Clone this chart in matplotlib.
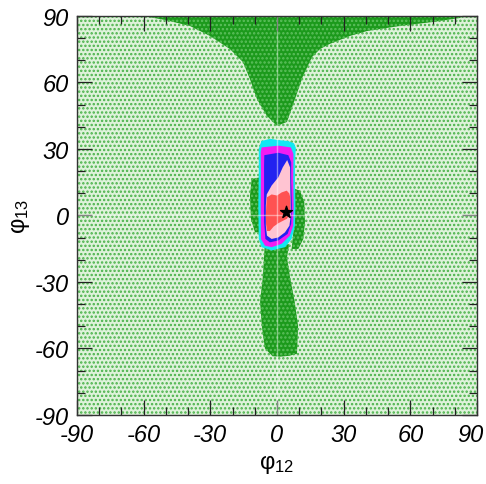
import numpy as np
import matplotlib
matplotlib.use("Agg")
import matplotlib.pyplot as plt
from matplotlib.patches import Rectangle
from matplotlib.transforms import ScaledTranslation

plt.rcParams['font.family'] = ['Liberation Sans', 'DejaVu Sans']
plt.rcParams['mathtext.default'] = 'regular'
plt.rcParams['axes.unicode_minus'] = False
plt.rcParams['hatch.linewidth'] = 1.15

# --- allowed-region boundaries in the (phi12, phi13) plane, degrees ---
# upper 3-sigma lobe hanging from phi13 = 90
top_phi12 = [-60.3, 83.7, 82.3, 70.2, 55.4, 40.5, 32.9, 23.8, 19.4, 15.8, 11.7, 8.1,
             4.5, 0.0, -4.5, -9.0, -12.2, -15.3, -21.2, -30.2, -39.2, -50.4]
top_phi13 = [90.0, 90.0, 89.1, 87.3, 85.5, 83.2, 81.0, 77.4, 75.1, 71.5, 62.9, 52.5,
             42.2, 40.4, 44.9, 52.5, 61.6, 69.2, 75.1, 81.0, 85.5, 88.2]

# lower 3-sigma lobe
low_phi12 = [-5.5, -6.3, -7.6, -6.8, -5.4, -2.0, 1.4, 5.5, 9.0, 9.5, 8.0, 6.0, 4.5, 5.5]
low_phi13 = [-13.0, -27.0, -39.0, -50.0, -60.0, -63.5, -63.7, -63.3, -62.4, -50.0,
             -39.0, -28.6, -19.0, -13.0]

# side 3-sigma patches next to the central island
left_phi12 = [-11.4, -7.65, -6.9, -6.9, -7.65, -9.9, -11.7, -12.15]
left_phi13 = [16.5, 17.2, 12.0, -3.1, -7.6, -7.6, -1.6, 9.0]
right_phi12 = [8.1, 10.35, 12.3, 12.6, 11.85, 9.6, 6.6, 7.35, 7.8]
right_phi13 = [12.0, 11.2, 6.0, -3.1, -10.6, -15.1, -15.1, -7.6, 4.5]

# central island, outermost to innermost
cyan_phi12 = [-7.0, -3.0, 0.6, 5.0, 7.6, 8.5, 8.2, 8.1, 8.3, 8.1, 6.6, 3.6, -2.4,
              -6.9, -8.2, -8.4, -8.2, -8.2]
cyan_phi13 = [33.6, 34.6, 34.0, 33.6, 32.6, 30.5, 25.5, 16.5, 4.5, -4.6, -10.6, -14.3,
              -15.8, -14.3, -10.6, 4.5, 19.5, 30.0]
mag_phi12 = [-6.9, 0.6, 6.3, 7.4, 7.3, 7.5, 7.3, 5.8, 2.1, -2.4, -5.4, -7.2, -7.3,
             -7.2, -7.3]
mag_phi13 = [30.7, 31.5, 30.7, 27.7, 16.5, 4.5, -4.6, -9.1, -12.8, -14.3, -13.6,
             -10.6, 4.5, 19.5, 28.5]
blue_phi12 = [-5.7, 0.6, 5.1, 6.4, 6.4, 6.7, 6.4, 4.8, 0.6, -3.2, -5.2, -5.8, -5.8,
              -5.8]
blue_phi13 = [27.2, 28.3, 27.2, 24.0, 15.0, 4.5, -3.8, -8.3, -11.3, -12.1, -10.6,
              -3.1, 12.0, 22.5]
pink_phi12 = [4.6, 5.9, 6.0, 6.2, 5.6, 3.6, 0.6, -2.4, -4.5, -5.0, -5.0, -4.6, -2.4,
              0.6, 2.6]
pink_phi13 = [25.0, 21.7, 12.0, 0.0, -4.6, -7.6, -9.9, -10.6, -9.1, -4.6, 4.5, 9.5,
              13.5, 17.2, 21.7]
red_phi12 = [-4.5, -2.4, 0.0, 2.1, 4.4, 5.5, 6.0, 6.0, 5.6, 4.5, 2.5, 0.6, -1.5, -3.2,
             -4.5, -4.9, -5.0, -4.8]
red_phi13 = [8.2, 9.5, 9.0, 10.4, 11.2, 10.0, 8.2, 3.0, 0.5, -1.5, -2.5, -3.5, -5.0,
             -7.0, -7.0, -4.0, 0.0, 4.5]

# best fit point
best_phi12 = [3.9]
best_phi13 = [1.7]

ticks_major = [-90, -60, -30, 0, 30, 60, 90]

fig = plt.figure(figsize=(4.86, 4.85), dpi=100)
ax = fig.add_axes([0.1584, 0.1423, 0.823, 0.8227])
ax.set_xlim(-90, 90)
ax.set_ylim(-90, 90)

# dotted light-green background (whole plane allowed)
ax.add_patch(Rectangle((0, 0), 1, 1, transform=ax.transAxes, facecolor='#def2da',
                       edgecolor='#48b248', hatch='....', lw=0, zorder=0))

dark = dict(facecolor='#1c9a1c', edgecolor='#5ec05e', hatch='....', lw=0, zorder=1)
ax.fill(top_phi12, top_phi13, **dark)
ax.fill(low_phi12, low_phi13, **dark)
ax.fill(left_phi12, left_phi13, **dark)
ax.fill(right_phi12, right_phi13, **dark)

ax.fill(cyan_phi12, cyan_phi13, color='#12e8f4', lw=0, zorder=2)
ax.fill(mag_phi12, mag_phi13, color='#f21cf2', lw=0, zorder=3)
ax.fill(blue_phi12, blue_phi13, color='#2222f0', lw=0, zorder=4)
ax.fill(pink_phi12, pink_phi13, color='#ffc4d2', lw=0, zorder=5)
ax.fill(red_phi12, red_phi13, color='#ff5252', lw=0, zorder=6)

ax.scatter(best_phi12, best_phi13, marker='*', s=80, color='black', zorder=8)

ax.axvline(0, color='white', lw=1.0, alpha=0.45, zorder=7)
ax.axhline(0, color='white', lw=1.0, alpha=0.45, zorder=7)

ax.set_xticks(ticks_major)
ax.set_yticks(ticks_major)
ax.set_xticks(np.arange(-90, 91, 10), minor=True)
ax.set_yticks(np.arange(-90, 91, 10), minor=True)
ax.tick_params(which='both', direction='in', top=True, right=True, color='#222222',
               width=0.9, zorder=10)
ax.tick_params(which='major', length=11, pad=6, labelsize=17)
ax.tick_params(which='minor', length=5.5)
for lab in ax.get_xticklabels() + ax.get_yticklabels():
    lab.set_fontstyle('italic')
# keep the last x label inside the canvas
last = ax.get_xticklabels()[-1]
last.set_transform(last.get_transform() + ScaledTranslation(-0.07, 0, fig.dpi_scale_trans))

for sp in ax.spines.values():
    sp.set_color('#333333')
    sp.set_linewidth(1.0)
    sp.set_zorder(10)

ax.set_xlabel('φ$_{12}$', fontsize=17, labelpad=4)
ax.set_ylabel('φ$_{13}$', fontsize=17, labelpad=2)

fig.savefig('out.png', dpi=100)
